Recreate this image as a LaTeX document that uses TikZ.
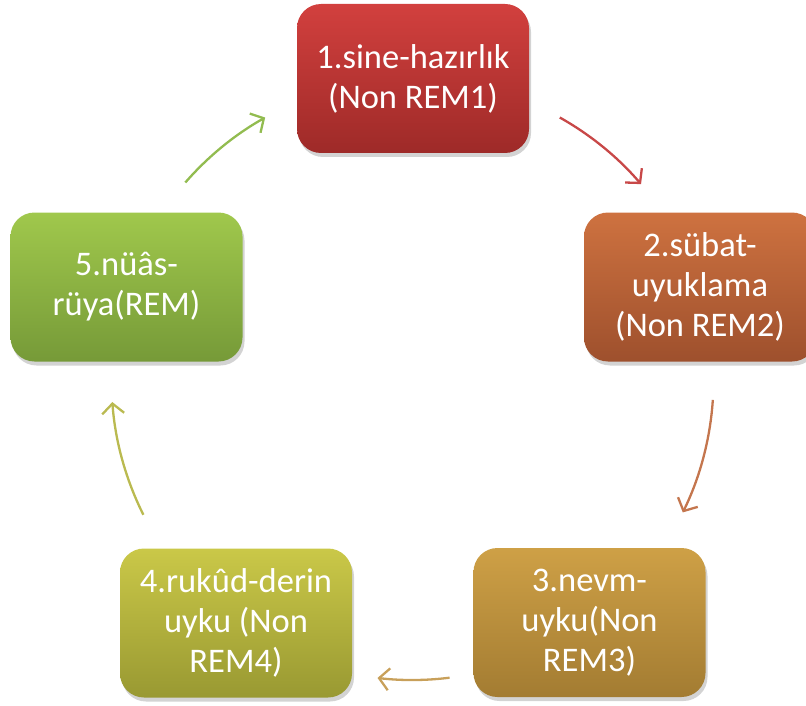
\documentclass[tikz,border=0pt]{standalone}
\usepackage{fontspec}
\setmainfont{Carlito}
\usetikzlibrary{arrows.meta,shadows}
\definecolor{r1}{RGB}{210,64,62}\definecolor{r2}{RGB}{158,42,40}
\definecolor{o1}{RGB}{206,114,64}\definecolor{o2}{RGB}{158,80,45}
\definecolor{g1}{RGB}{206,160,70}\definecolor{g2}{RGB}{163,124,50}
\definecolor{y1}{RGB}{202,200,72}\definecolor{y2}{RGB}{153,153,50}
\definecolor{l1}{RGB}{160,200,76}\definecolor{l2}{RGB}{118,154,56}
\definecolor{a1}{RGB}{200,72,72}\definecolor{a2}{RGB}{196,118,78}
\definecolor{a3}{RGB}{200,160,90}\definecolor{a4}{RGB}{186,186,80}
\definecolor{a5}{RGB}{146,188,80}
\begin{document}
\begin{tikzpicture}[x=1pt,y=-1pt,
  box/.style={rounded corners=24pt, minimum width=232pt, minimum height=149pt,
    align=center, text=white, font=\fontsize{34.5}{40}\selectfont, inner sep=0pt,
    drop shadow={opacity=0.35, shadow xshift=2pt, shadow yshift=-4pt}},
  arr/.style={line width=2.3pt, -{Straight Barb[length=10pt,width=22pt,line width=2.3pt]}}]
\useasboundingbox (0,0) rectangle (806,706);
\coordinate (O) at (412.5,380);
\node[box, top color=r1, bottom color=r2] (b1) at (413,78.5) {1.sine-hazırlık\\(Non REM1)};
\node[box, top color=o1, bottom color=o2] (b2) at (700,287) {2.sübat-\\uyuklama\\(Non REM2)};
\node[box, top color=g1, bottom color=g2] (b3) at (589.5,622.5) {3.nevm-\\uyku(Non\\REM3)};
\node[box, top color=y1, bottom color=y2] (b4) at (236,623) {4.rukûd-derin\\uyku (Non\\REM4)};
\node[box, top color=l1, bottom color=l2] (b5) at (126.5,287) {5.nüâs-\\rüya(REM)};
\draw[arr, a1] ([shift={(-60.7:301)}]O) arc[start angle=-60.7, end angle=-40.6, radius=301];
\draw[arr, a2] ([shift={(3.8:301)}]O) arc[start angle=3.8, end angle=26.1, radius=301];
\draw[arr, a3] ([shift={(82.9:300)}]O) arc[start angle=82.9, end angle=96.7, radius=300];
\draw[arr, a4] ([shift={(153.4:301)}]O) arc[start angle=153.4, end angle=175.8, radius=301];
\draw[arr, a5] ([shift={(221:301)}]O) arc[start angle=221, end angle=240.7, radius=301];
\end{tikzpicture}
\end{document}
